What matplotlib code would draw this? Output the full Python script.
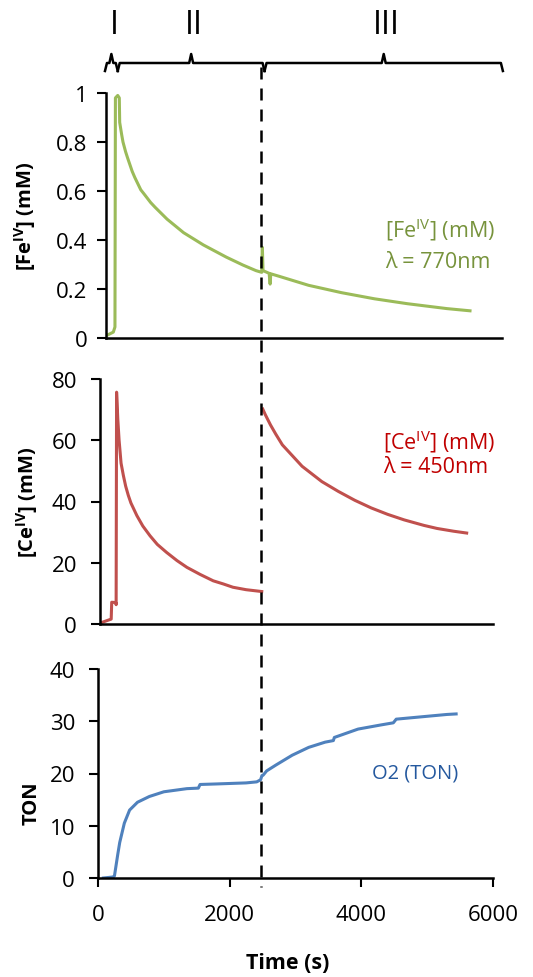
import matplotlib
matplotlib.use("Agg")
import matplotlib.pyplot as plt
import matplotlib.transforms as mtransforms
import numpy as np

plt.rcParams['font.family'] = ['Open Sans', 'DejaVu Sans']
plt.rcParams['mathtext.fontset'] = 'custom'
plt.rcParams['mathtext.rm'] = 'Open Sans'
plt.rcParams['mathtext.bf'] = 'Open Sans:bold'

# --- data (time in s) ---
fe_time = [106, 233, 258, 265, 300, 324, 330, 360, 380, 420, 450, 520, 560, 650, 700,
           800, 870, 1050, 1300, 1600, 1950, 2200, 2400, 2487, 2497, 2507, 2600, 2615,
           2625, 2750, 3200, 3700, 4200, 4700, 5300, 5651]
fe_conc = [0.007, 0.024, 0.045, 0.98, 0.99, 0.98, 0.88, 0.83, 0.80, 0.76, 0.735, 0.68,
           0.655, 0.605, 0.588, 0.553, 0.533, 0.485, 0.43, 0.38, 0.33, 0.298, 0.275,
           0.268, 0.37, 0.275, 0.264, 0.22, 0.262, 0.252, 0.215, 0.185, 0.16, 0.14,
           0.12, 0.111]

ce_time = [56, 200, 208, 270, 275, 282, 290, 300, 320, 350, 385, 420, 460, 500, 590,
           680, 790, 900, 1040, 1200, 1350, 1550, 1750, 1900, 2050, 2250, 2487, np.nan,
           2502, 2540, 2620, 2700, 2800, 2950, 3100, 3400, 3650, 3900, 4150, 4400, 4650,
           4950, 5150, 5400, 5600]
ce_conc = [0.5, 1.6, 7.1, 7.0, 6.3, 75.7, 72, 67, 60, 52.5, 48.5, 45, 42, 39.5, 35.4,
           32, 28.8, 26, 23.4, 20.7, 18.5, 16.2, 14.1, 13.1, 12.0, 11.2, 10.6, np.nan,
           70.2, 68.4, 65, 62, 58.5, 55, 51.5, 46.5, 43.3, 40.4, 37.9, 35.8, 34.0,
           32.2, 31.2, 30.3, 29.7]

ton_time = [81, 233, 250, 300, 330, 400, 480, 600, 780, 1000, 1350, 1524, 1550, 1800,
            2250, 2411, 2470, 2490, 2510, 2562, 2700, 2950, 3200, 3450, 3575, 3590,
            3950, 4300, 4486, 4530, 4700, 5300, 5440]
ton_vals = [0, 0.2, 0.4, 4.5, 6.8, 10.5, 13.0, 14.5, 15.6, 16.5, 17.1, 17.2, 17.9, 18.0,
            18.2, 18.4, 18.8, 19.6, 19.7, 20.5, 21.6, 23.5, 25.0, 26.0, 26.3, 26.9,
            28.5, 29.3, 29.7, 30.4, 30.6, 31.3, 31.4]

phase_edges = [106, 300, 2530, 6150]
phase_names = ['I', 'II', 'III']
switch_time = 2480

fe_ticks = [0, 0.2, 0.4, 0.6, 0.8, 1]
fe_ticklabels = ['0', '0.2', '0.4', '0.6', '0.8', '1']
ce_ticks = [0, 20, 40, 60, 80]
ton_ticks = [0, 10, 20, 30, 40]
time_ticks = [0, 2000, 4000, 6000]

GREEN, RED, BLUE = '#9bbb59', '#c0504d', '#4f81bd'

W, H = 533, 978
fig = plt.figure(figsize=(W / 100, H / 100), dpi=100)


def px_axes(left, top, right, bottom):
    return fig.add_axes([left / W, 1 - bottom / H, (right - left) / W, (bottom - top) / H])


def style(ax, pad):
    for s in ['top', 'right']:
        ax.spines[s].set_visible(False)
    for s in ['left', 'bottom']:
        ax.spines[s].set_linewidth(1.8)
    ax.tick_params(axis='y', direction='out', length=6.5, width=1.5, labelsize=16, pad=pad)
    ax.tick_params(axis='x', direction='out', length=6.5, width=1.5, labelsize=16, pad=12)


ax1 = px_axes(106, 94, 502, 339)
ax2 = px_axes(100, 380, 493, 625)
ax3 = px_axes(98, 670, 493, 879)

# Fe(IV)
ax1.plot(fe_time, fe_conc, color=GREEN, lw=2.2)
ax1.set_xlim(122, 6137)
ax1.set_ylim(0, 1)
ax1.set_yticks(fe_ticks)
ax1.set_yticklabels(fe_ticklabels)
ax1.set_xticks([])
style(ax1, 7)
ax1.set_ylabel(r'[Fe$^{\mathbf{IV}}$] (mM)', fontsize=14.5, fontweight='bold', va='center')
ax1.yaxis.set_label_coords(-0.205, 0.5)
ax1.text(0.705, 0.445, r'[Fe$^{\mathrm{IV}}$] (mM)', transform=ax1.transAxes,
         color='#77933c', fontsize=15.5, va='center')
ax1.text(0.705, 0.314, 'λ = 770nm', transform=ax1.transAxes,
         color='#77933c', fontsize=15.5, va='center')

# Ce(IV)
ax2.plot(ce_time, ce_conc, color=RED, lw=2.2)
ax2.set_xlim(30, 6000)
ax2.set_ylim(0, 80)
ax2.set_yticks(ce_ticks)
ax2.set_xticks([])
style(ax2, 10)
ax2.set_ylabel(r'[Ce$^{\mathbf{IV}}$] (mM)', fontsize=14.5, fontweight='bold', va='center')
ax2.yaxis.set_label_coords(-0.186, 0.5)
ax2.text(0.72, 0.747, r'[Ce$^{\mathrm{IV}}$] (mM)', transform=ax2.transAxes,
         color='#c00000', fontsize=15.5, va='center')
ax2.text(0.72, 0.641, 'λ = 450nm', transform=ax2.transAxes,
         color='#c00000', fontsize=15.5, va='center')

# TON
ax3.plot(ton_time, ton_vals, color=BLUE, lw=2.2)
ax3.set_xlim(0, 6000)
ax3.set_ylim(0, 40)
ax3.set_yticks(ton_ticks)
ax3.set_xticks(time_ticks)
style(ax3, 10)
ax3.set_ylabel('TON', fontsize=14.5, fontweight='bold', va='center')
ax3.yaxis.set_label_coords(-0.167, 0.364)
ax3.set_xlabel('Time (s)', fontsize=15.5, fontweight='bold', va='center')
ax3.xaxis.set_label_coords(0.481, -0.402)
ax3.text(0.694, 0.507, 'O2 (TON)', transform=ax3.transAxes,
         color='#24589e', fontsize=14.5, va='center')

# phase braces on top
axb = px_axes(98, 0, 493, 80)
axb.set_xlim(0, 6000)
axb.set_ylim(80, 0)
axb.axis('off')
for a, b, name in zip(phase_edges[:-1], phase_edges[1:], phase_names):
    c = (a + b) / 2
    d = min(30, (b - a) / 6)
    axb.plot([a, a + d, c - d, c, c + d, b - d, b], [72, 64, 64, 55, 64, 64, 72],
             color='black', lw=1.8, clip_on=False, solid_joinstyle='round')
    axb.text(c + 40, 25, name, ha='center', va='center', fontsize=23)

# dashed switch line across all panels
tr = mtransforms.blended_transform_factory(ax3.transData, fig.transFigure)
fig.add_artist(plt.Line2D([switch_time, switch_time], [1 - 68 / H, 1 - 888 / H],
                          transform=tr, color='black', lw=1.8, dashes=(4.8, 3.6)))

fig.savefig('out.png', dpi=100)
